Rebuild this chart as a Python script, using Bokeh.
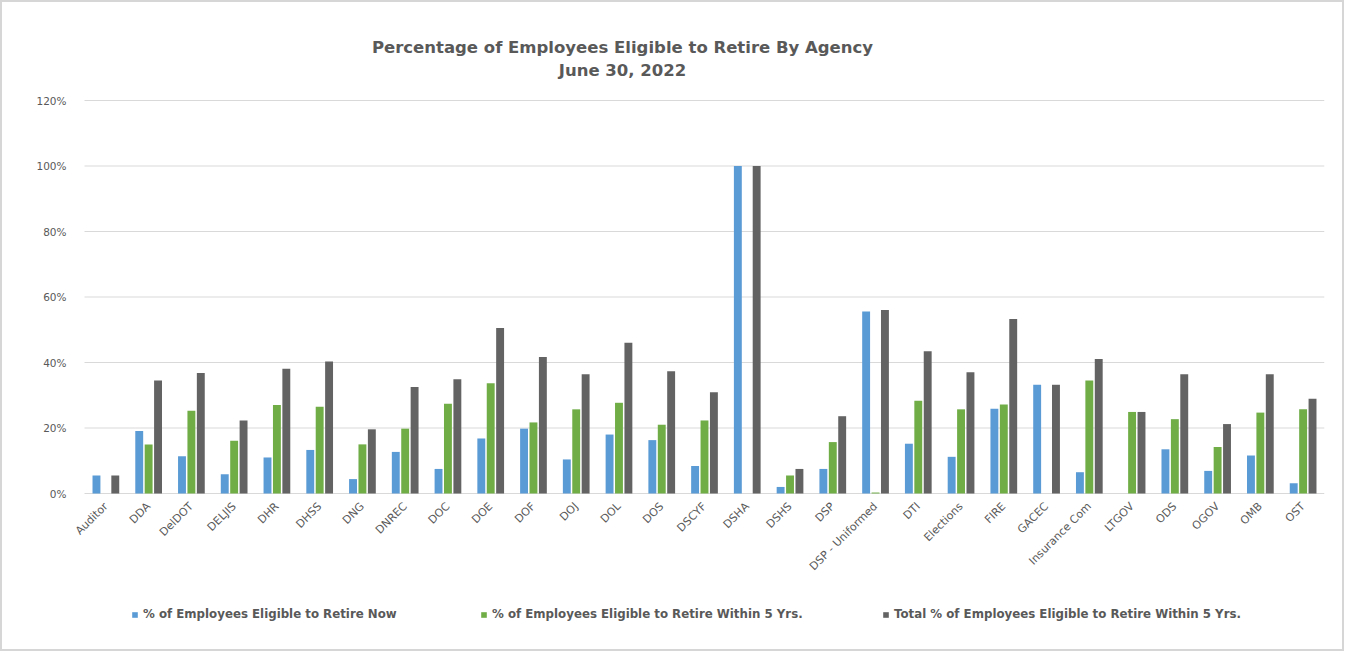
import math
from bokeh.plotting import figure
from bokeh.models import ColumnDataSource, Range1d, Label, Legend, LegendItem, PrintfTickFormatter, FixedTicker
from bokeh.transform import dodge
from bokeh.embed import file_html
from bokeh.resources import INLINE

agencies = ["Auditor", "DDA", "DelDOT", "DELJIS", "DHR", "DHSS", "DNG", "DNREC", "DOC", "DOE",
            "DOF", "DOJ", "DOL", "DOS", "DSCYF", "DSHA", "DSHS", "DSP", "DSP - Uniformed", "DTI",
            "Elections", "FIRE", "GACEC", "Insurance Com", "LTGOV", "ODS", "OGOV", "OMB", "OST"]
retire_now = [5.5, 19.1, 11.4, 5.9, 11.0, 13.3, 4.4, 12.7, 7.5, 16.8,
              19.8, 10.4, 18.0, 16.3, 8.4, 100.0, 2.0, 7.5, 55.6, 15.2,
              11.2, 25.9, 33.2, 6.5, 0.0, 13.5, 6.9, 11.6, 3.1]
retire_5yrs = [0.0, 15.0, 25.3, 16.1, 27.0, 26.5, 15.0, 19.8, 27.4, 33.7,
               21.7, 25.7, 27.7, 21.0, 22.3, 0.0, 5.5, 15.7, 0.3, 28.3,
               25.7, 27.2, 0.0, 34.5, 24.9, 22.7, 14.2, 24.7, 25.7]
retire_total = [5.5, 34.5, 36.8, 22.3, 38.1, 40.3, 19.6, 32.5, 34.9, 50.5,
                41.7, 36.4, 46.0, 37.3, 30.9, 100.0, 7.5, 23.6, 56.0, 43.4,
                37.0, 53.3, 33.2, 41.1, 24.9, 36.4, 21.2, 36.4, 28.9]
y_ticks = [0, 20, 40, 60, 80, 100, 120]
series_names = ["% of Employees Eligible to Retire Now",
                "% of Employees Eligible to Retire Within 5 Yrs.",
                "Total % of Employees Eligible to Retire Within 5 Yrs."]
title_line1 = "Percentage of Employees Eligible to Retire By Agency"
title_line2 = "June 30, 2022"

BLUE = "#5B9BD5"
GREEN = "#70AD47"
GRAY = "#636363"
TXT = "#595959"
GRID = "#d9d9d9"

# ---- layout (page pixels; figure inner area starts at page 2,2 because of the 2px border)
W, H = 1344, 651
BL, BR, BT, BB = 10, 22, 8, 10
frame_left, frame_right = 2 + BL, 2 + W - BR
frame_top, frame_bottom = 2 + BT, 2 + H - BB
grid_left, grid_right = 84, 1324          # page x of the plot area (category band)
y_top_px, y_zero_px = 100, 493            # page y of 120% and 0%

n = len(agencies)
cat_px = (grid_right - grid_left) / n
x_lo = -0.5 - (grid_left - frame_left) / cat_px
x_hi = n - 0.5 + (frame_right - grid_right) / cat_px
upp = (y_ticks[-1] - y_ticks[0]) / (y_zero_px - y_top_px)
y_hi = y_ticks[-1] + (y_top_px - frame_top) * upp
y_lo = y_ticks[0] - (frame_bottom - y_zero_px) * upp

pos = list(range(n))
src = ColumnDataSource(dict(pos=pos, agency=agencies, now=retire_now, five=retire_5yrs,
                            total=retire_total))

p = figure(width=W, height=H, x_range=Range1d(x_lo, x_hi), y_range=Range1d(y_lo, y_hi),
           output_backend="svg", toolbar_location=None,
           min_border_left=BL, min_border_right=BR, min_border_top=BT, min_border_bottom=BB)
p.styles = {"border": "2px solid #d6d6d6"}
p.outline_line_color = None
p.background_fill_color = "white"
p.border_fill_color = "white"
p.xgrid.grid_line_color = None
p.ygrid.grid_line_color = None

# horizontal gridlines across the category band only
p.segment(x0=[-0.5] * len(y_ticks), x1=[n - 0.5] * len(y_ticks), y0=y_ticks, y1=y_ticks,
          line_color=GRID, line_width=1)

off = 0.22
w = 0.185
r1 = p.vbar(x=dodge("pos", -off), top="now", width=w, source=src, fill_color=BLUE, line_color=None)
r2 = p.vbar(x=dodge("pos", 0.0), top="five", width=w, source=src, fill_color=GREEN, line_color=None)
r3 = p.vbar(x=dodge("pos", off), top="total", width=w, source=src, fill_color=GRAY, line_color=None)

for ax in (p.xaxis, p.yaxis):
    ax.major_tick_line_color = None
    ax.minor_tick_line_color = None
    ax.axis_line_color = None
    ax.major_label_text_color = TXT
    ax.major_label_text_font = "DejaVu Sans"
    ax.major_label_text_font_size = "10.5px"

p.yaxis.ticker = FixedTicker(ticks=y_ticks)
p.yaxis.formatter = PrintfTickFormatter(format="%d%%")
p.yaxis.fixed_location = -0.5
p.yaxis.major_label_standoff = 12

p.xaxis.ticker = FixedTicker(ticks=pos)
p.xaxis.major_label_overrides = {i: a for i, a in zip(pos, agencies)}
p.xaxis.fixed_location = 0
p.xaxis.major_label_orientation = math.pi / 4
p.xaxis.major_label_standoff = 5
p.xaxis.major_label_text_font_size = "11px"

title_x = 622 - frame_left
p.add_layout(Label(x=title_x, y=frame_bottom - 47, x_units="screen", y_units="screen",
                   text=title_line1, text_align="center", text_baseline="middle",
                   text_font="DejaVu Sans", text_font_style="bold", text_font_size="16.5px",
                   text_color=TXT))
p.add_layout(Label(x=title_x, y=frame_bottom - 70, x_units="screen", y_units="screen",
                   text=title_line2, text_align="center", text_baseline="middle",
                   text_font="DejaVu Sans", text_font_style="bold", text_font_size="16.5px",
                   text_color=TXT))

legend_glyph_x = [131, 480, 882]
for r, name, gx in zip((r1, r2, r3), series_names, legend_glyph_x):
    lg = Legend(items=[LegendItem(label=name, renderers=[r])],
                orientation="horizontal", location=(gx - frame_left, frame_bottom - 614 - 7),
                glyph_width=7, glyph_height=7, label_standoff=5, padding=0, margin=0,
                border_line_color=None, background_fill_alpha=0,
                label_text_font="DejaVu Sans", label_text_font_style="bold",
                label_text_font_size="11.8px", label_text_color=TXT, label_height=14)
    p.add_layout(lg, "center")

open("out.html", "w").write(file_html(p, INLINE))
